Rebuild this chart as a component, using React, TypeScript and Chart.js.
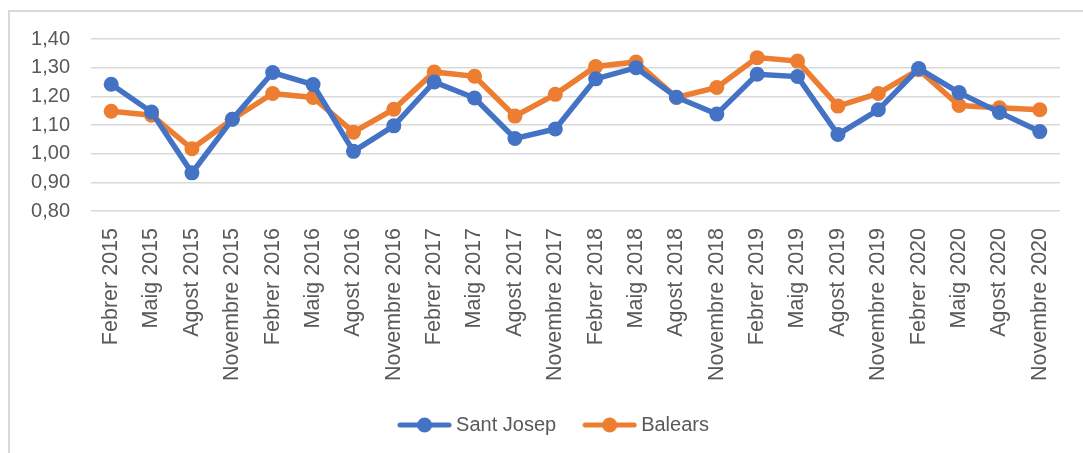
import React, { useEffect, useRef } from "react";
import { Chart, registerables } from "chart.js";

Chart.register(...registerables);

const categories = [
  "Febrer 2015", "Maig 2015", "Agost 2015", "Novembre 2015",
  "Febrer 2016", "Maig 2016", "Agost 2016", "Novembre 2016",
  "Febrer 2017", "Maig 2017", "Agost 2017", "Novembre 2017",
  "Febrer 2018", "Maig 2018", "Agost 2018", "Novembre 2018",
  "Febrer 2019", "Maig 2019", "Agost 2019", "Novembre 2019",
  "Febrer 2020", "Maig 2020", "Agost 2020", "Novembre 2020",
];

const santJosep = [
  1.242, 1.145, 0.933, 1.12, 1.283, 1.241, 1.008, 1.097,
  1.25, 1.194, 1.053, 1.086, 1.261, 1.3, 1.197, 1.138,
  1.277, 1.269, 1.067, 1.153, 1.297, 1.213, 1.144, 1.077,
];

const balears = [
  1.148, 1.134, 1.017, 1.12, 1.21, 1.196, 1.075, 1.155,
  1.285, 1.27, 1.131, 1.207, 1.304, 1.32, 1.196, 1.231,
  1.335, 1.323, 1.166, 1.21, 1.293, 1.168, 1.16, 1.153,
];

const seriesNames = ["Sant Josep", "Balears"];
const seriesColors = ["#4472C4", "#ED7D31"];

const FONT = "'Liberation Sans', Arial, sans-serif";
const TEXT = "#595959";

function legendIcon(color: string): HTMLCanvasElement {
  const c = document.createElement("canvas");
  c.width = 55;
  c.height = 16;
  const ctx = c.getContext("2d")!;
  ctx.strokeStyle = color;
  ctx.lineWidth = 5;
  ctx.lineCap = "round";
  ctx.beginPath();
  ctx.moveTo(3, 8);
  ctx.lineTo(52, 8);
  ctx.stroke();
  ctx.fillStyle = color;
  ctx.beginPath();
  ctx.arc(27.5, 8, 7.5, 0, Math.PI * 2);
  ctx.fill();
  return c;
}

const shiftLegend = {
  id: "shiftLegend",
  afterLayout(chart: any) {
    if (chart.legend) {
      chart.legend.left += 24;
      chart.legend.right += 24;
    }
  },
};

export default function App() {
  const ref = useRef<HTMLCanvasElement | null>(null);

  useEffect(() => {
    if (!ref.current) return;
    const icons = seriesColors.map(legendIcon);
    const chart = new Chart(ref.current, {
      type: "line",
      data: {
        labels: categories,
        datasets: [santJosep, balears].map((d, i) => ({
          label: seriesNames[i],
          data: d,
          borderColor: seriesColors[i],
          backgroundColor: seriesColors[i],
          borderWidth: 5.5,
          pointRadius: 7.5,
          pointBorderWidth: 0,
          pointBackgroundColor: seriesColors[i],
          pointStyle: "circle",
          tension: 0,
          fill: false,
        })),
      },
      plugins: [shiftLegend],
      options: {
        responsive: false,
        animation: false,
        layout: { padding: { left: 0, right: 19, top: 39, bottom: 8 } },
        plugins: {
          tooltip: { enabled: false },
          title: { display: false },
          legend: {
            position: "bottom",
            labels: {
              usePointStyle: true,
              pointStyleWidth: 43,
              padding: 32,
              color: TEXT,
              font: { family: FONT, size: 20 },
              generateLabels: (ch: any) =>
                ch.data.datasets.map((ds: any, i: number) => ({
                  text: ds.label,
                  fillStyle: seriesColors[i],
                  strokeStyle: seriesColors[i],
                  lineWidth: 0,
                  pointStyle: icons[i],
                  hidden: false,
                  datasetIndex: i,
                  fontColor: TEXT,
                })),
            },
          },
        },
        scales: {
          x: {
            offset: true,
            grid: { display: false, drawTicks: false },
            border: { display: false },
            ticks: {
              color: TEXT,
              font: { family: FONT, size: 21.5 },
              maxRotation: 90,
              minRotation: 90,
              autoSkip: false,
              padding: 17,
            },
            afterFit: (s: any) => {
              s.height = 172;
            },
          },
          y: {
            min: 0.8,
            max: 1.4,
            grid: { color: "#d9d9d9", lineWidth: 1.5, drawTicks: false },
            border: { display: false },
            ticks: {
              stepSize: 0.1,
              color: TEXT,
              font: { family: FONT, size: 20 },
              padding: 21,
              callback: (v: any) => Number(v).toFixed(2).replace(".", ","),
            },
            afterFit: (s: any) => {
              s.width = 91;
            },
          },
        },
      },
    });
    return () => chart.destroy();
  }, []);

  return (
    <div style={{ position: "fixed", left: 0, top: 0, width: 1083, height: 453, background: "#fff", overflow: "hidden" }}>
      <div
        style={{
          position: "absolute",
          left: 8,
          top: 10,
          width: 1100,
          height: 460,
          borderLeft: "2px solid #d9d9d9",
          borderTop: "2px solid #d9d9d9",
        }}
      />
      <canvas ref={ref} width={1083} height={453} style={{ position: "absolute", left: 0, top: 0 }} />
    </div>
  );
}
